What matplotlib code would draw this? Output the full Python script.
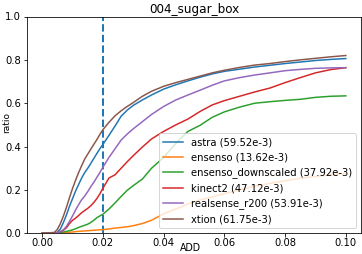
import numpy as np
import matplotlib
matplotlib.use('Agg')
import matplotlib.pyplot as plt

# ADD thresholds (m) and accuracy ratio per sensor
ADD = [0.000, 0.004, 0.005, 0.006, 0.007, 0.008, 0.009, 0.010, 0.011, 0.012, 0.013,
       0.014, 0.015, 0.016, 0.017, 0.018, 0.019, 0.020, 0.022, 0.024, 0.026, 0.028,
       0.030, 0.033, 0.036, 0.040, 0.044, 0.048, 0.052, 0.056, 0.060, 0.065, 0.070,
       0.075, 0.080, 0.085, 0.090, 0.095, 0.100]

astra = [0.0, 0.0, 0.005, 0.020, 0.050, 0.085, 0.125, 0.160, 0.195, 0.225, 0.255,
         0.280, 0.300, 0.322, 0.345, 0.368, 0.390, 0.410, 0.452, 0.495, 0.540, 0.568,
         0.590, 0.615, 0.638, 0.665, 0.685, 0.703, 0.720, 0.735, 0.747, 0.757, 0.767,
         0.775, 0.783, 0.790, 0.797, 0.802, 0.806]
ensenso = [0.0, 0.0, 0.001, 0.002, 0.003, 0.004, 0.005, 0.006, 0.008, 0.009, 0.010,
           0.011, 0.012, 0.013, 0.014, 0.015, 0.016, 0.017, 0.020, 0.024, 0.027, 0.030,
           0.035, 0.045, 0.060, 0.090, 0.112, 0.135, 0.154, 0.168, 0.183, 0.200, 0.217,
           0.230, 0.242, 0.254, 0.262, 0.270, 0.277]
ensenso_ds = [0.0, 0.0, 0.001, 0.003, 0.006, 0.009, 0.012, 0.016, 0.021, 0.027, 0.032,
              0.037, 0.042, 0.050, 0.060, 0.072, 0.080, 0.088, 0.112, 0.140, 0.170, 0.198,
              0.220, 0.250, 0.300, 0.350, 0.415, 0.470, 0.498, 0.535, 0.560, 0.582, 0.600,
              0.607, 0.613, 0.618, 0.627, 0.632, 0.634]
kinect2 = [0.0, 0.0, 0.003, 0.007, 0.014, 0.026, 0.045, 0.060, 0.070, 0.082, 0.095,
           0.105, 0.115, 0.127, 0.142, 0.160, 0.182, 0.208, 0.255, 0.270, 0.300, 0.330,
           0.358, 0.398, 0.435, 0.470, 0.500, 0.527, 0.562, 0.592, 0.612, 0.632, 0.652,
           0.670, 0.695, 0.718, 0.740, 0.755, 0.764]
realsense = [0.0, 0.0, 0.003, 0.008, 0.016, 0.032, 0.055, 0.080, 0.108, 0.132, 0.155,
             0.172, 0.192, 0.215, 0.235, 0.258, 0.280, 0.305, 0.350, 0.390, 0.430, 0.458,
             0.482, 0.515, 0.548, 0.585, 0.615, 0.638, 0.660, 0.683, 0.703, 0.718, 0.730,
             0.740, 0.750, 0.756, 0.761, 0.763, 0.764]
xtion = [0.0, 0.004, 0.018, 0.045, 0.080, 0.120, 0.165, 0.207, 0.245, 0.280, 0.312,
         0.342, 0.365, 0.388, 0.410, 0.432, 0.456, 0.478, 0.512, 0.542, 0.565, 0.585,
         0.603, 0.632, 0.655, 0.678, 0.695, 0.710, 0.725, 0.740, 0.752, 0.765, 0.776,
         0.783, 0.792, 0.800, 0.807, 0.814, 0.820]

labels = ['astra (59.52e-3)', 'ensenso (13.62e-3)', 'ensenso_downscaled (37.92e-3)',
          'kinect2 (47.12e-3)', 'realsense_r200 (53.91e-3)', 'xtion (61.75e-3)']
series = [astra, ensenso, ensenso_ds, kinect2, realsense, xtion]
THRESH = 0.02

fig = plt.figure(figsize=(362/72, 254/72), dpi=72)
ax = fig.add_axes([27/362, 20.7/254, 334/362, 216.8/254])
ax.axvline(THRESH, color='C0', lw=2, ls='--')
for ys, lab in zip(series, labels):
    ax.plot(ADD, ys, lw=1.5, label=lab)
ax.set_ylim(0, 1)
ax.set_xticks([0.0, 0.02, 0.04, 0.06, 0.08, 0.10])
ax.tick_params(axis='x', pad=1)
ax.tick_params(axis='y', pad=2.5)
ax.set_xlabel('ADD', fontsize=9.5)
ax.xaxis.set_label_coords(0.49, -0.043)
ax.set_ylabel('ratio', fontsize=9)
ax.yaxis.set_label_coords(-0.049, 0.51)
ax.set_title('004_sugar_box', pad=4)
ax.legend(loc='lower right')
fig.savefig('out.png', dpi=72)
